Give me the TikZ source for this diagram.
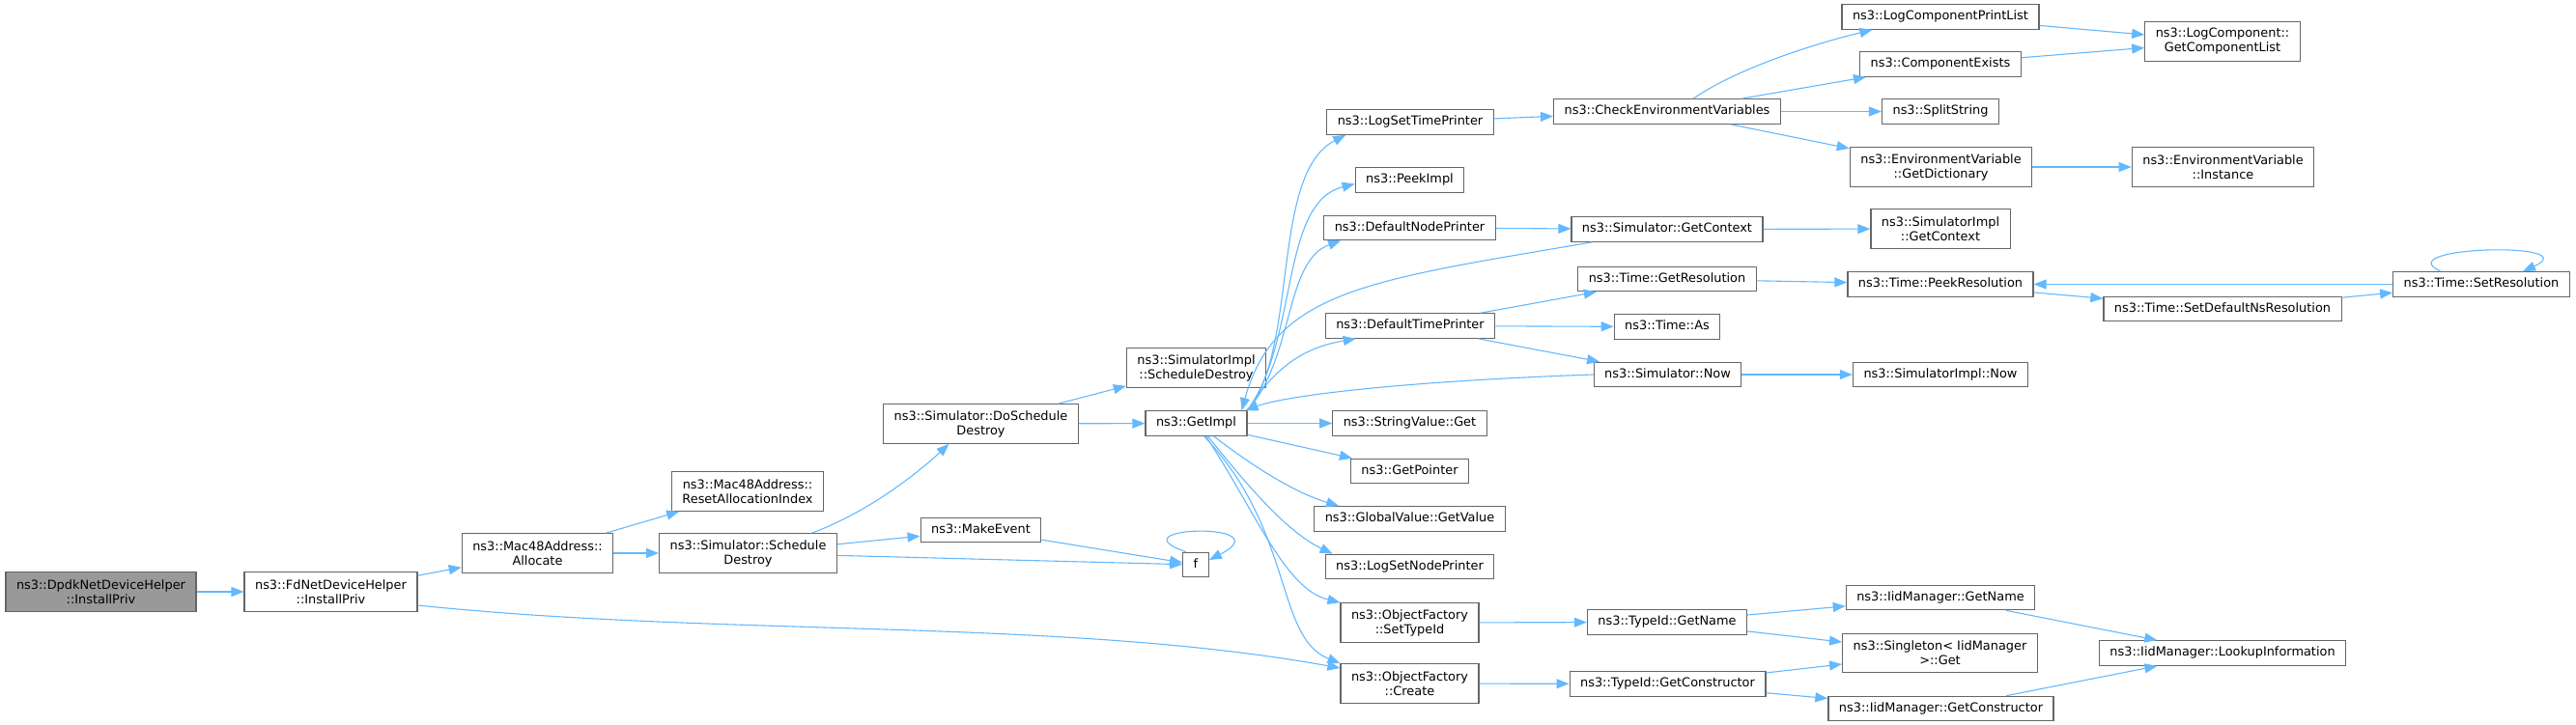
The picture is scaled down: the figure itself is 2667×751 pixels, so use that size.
\documentclass[tikz,border=0pt]{standalone}
\usepackage{fontspec}
\newfontfamily\dejavu{DejaVu Sans}
\usetikzlibrary{arrows.meta}
\definecolor{edgeblue}{HTML}{63B8FF}
\definecolor{boxgray}{HTML}{666666}
\definecolor{rootgray}{HTML}{999999}
\begin{document}
\begin{tikzpicture}[x=1pt, y=-1pt,
  fn/.style={draw=boxgray, line width=1.2pt, fill=white, align=center, inner xsep=11pt, inner ysep=2pt, font=\dejavu\fontsize{12.9}{15}\selectfont},
  one/.style={fn, minimum height=25.5pt, text height=9.6pt, text depth=3.1pt},
  two/.style={fn, minimum height=40.5pt},
  call/.style={draw=edgeblue, line width=1.1pt, -{Triangle[length=13pt,width=10pt]}}]
\useasboundingbox (0,0) rectangle (2667,751);
% left part
\node[two, fill=rootgray] (dpdk) at (104.5,613) {ns3::DpdkNetDeviceHelper\\::InstallPriv};
\node[two] (fdInstall) at (342.5,613) {ns3::FdNetDeviceHelper\\::InstallPriv};
\node[two] (macAlloc) at (556.5,573) {ns3::Mac48Address::\\Allocate};
\node[two] (macReset) at (774,509) {ns3::Mac48Address::\\ResetAllocationIndex};
\node[two] (simSched) at (774.5,573) {ns3::Simulator::Schedule\\Destroy};
\node[two] (simDoSched) at (1015.5,439) {ns3::Simulator::DoSchedule\\Destroy};
\node[two] (implSched) at (1238.5,381) {ns3::SimulatorImpl\\::ScheduleDestroy};
\node[one] (makeEvent) at (1015.5,549) {ns3::MakeEvent};
\node[one] (fFunc) at (1238,585) {f};
\node[one] (getImpl) at (1238.5,438.5) {ns3::GetImpl};
% callees of GetImpl
\node[one] (logTime) at (1460,126.5) {ns3::LogSetTimePrinter};
\node[one] (peekImpl) at (1459.5,186.5) {ns3::PeekImpl};
\node[one] (nodePrinter) at (1459.5,236) {ns3::DefaultNodePrinter};
\node[one] (timePrinter) at (1460,337.5) {ns3::DefaultTimePrinter};
\node[one] (strGet) at (1459.5,438.5) {ns3::StringValue::Get};
\node[one] (getPtr) at (1459.5,488) {ns3::GetPointer};
\node[one] (globVal) at (1459.5,537.5) {ns3::GlobalValue::GetValue};
\node[one] (logNode) at (1459.5,587) {ns3::LogSetNodePrinter};
\node[two] (setTid) at (1459.5,645) {ns3::ObjectFactory\\::SetTypeId};
\node[two] (ofCreate) at (1459.5,708) {ns3::ObjectFactory\\::Create};
% next column
\node[one] (checkEnv) at (1726,115.5) {ns3::CheckEnvironmentVariables};
\node[one] (simCtx) at (1726,237.5) {ns3::Simulator::GetContext};
\node[one] (getRes) at (1726,289) {ns3::Time::GetResolution};
\node[one] (timeAs) at (1726,338.5) {ns3::Time::As};
\node[one] (simNow) at (1726.5,388) {ns3::Simulator::Now};
\node[one] (tidName) at (1726,644.5) {ns3::TypeId::GetName};
\node[one] (tidCtor) at (1726.5,708.5) {ns3::TypeId::GetConstructor};
\node[one] (printList) at (2009,17.5) {ns3::LogComponentPrintList};
\node[one] (compExists) at (2009,66.5) {ns3::ComponentExists};
\node[one] (splitStr) at (2009,115.5) {ns3::SplitString};
\node[two] (envDict) at (2009.5,173) {ns3::EnvironmentVariable\\::GetDictionary};
\node[two] (implCtx) at (2009,237) {ns3::SimulatorImpl\\::GetContext};
\node[one] (peekRes) at (2009,294.5) {ns3::Time::PeekResolution};
\node[one] (implNow) at (2009,388) {ns3::SimulatorImpl::Now};
\node[one] (iidName) at (2009,619) {ns3::IidManager::GetName};
\node[two] (singleton) at (2008.5,676.5) {ns3::Singleton< IidManager\\>::Get};
\node[one] (iidCtor) at (2009.5,734) {ns3::IidManager::GetConstructor};
\node[two] (compList) at (2301,43) {ns3::LogComponent::\\GetComponentList};
\node[two] (envInst) at (2301.5,173) {ns3::EnvironmentVariable\\::Instance};
\node[one] (setDefNs) at (2301,320) {ns3::Time::SetDefaultNsResolution};
\node[one] (lookup) at (2301,676.5) {ns3::IidManager::LookupInformation};
\node[one] (setRes) at (2569,294.5) {ns3::Time::SetResolution};
% straight calls
\foreach \a/\b in {dpdk/fdInstall, fdInstall/macAlloc, macAlloc/macReset, macAlloc/simSched,
  simSched/makeEvent, simSched/fFunc, makeEvent/fFunc, simDoSched/implSched, simDoSched/getImpl,
  getImpl/strGet, getImpl/getPtr, logTime/checkEnv, nodePrinter/simCtx, timePrinter/getRes,
  timePrinter/timeAs, timePrinter/simNow, simCtx/implCtx, simNow/implNow, getRes/peekRes,
  peekRes/setDefNs, setDefNs/setRes, setRes/peekRes, checkEnv/compExists, checkEnv/splitStr,
  checkEnv/envDict, printList/compList, compExists/compList, envDict/envInst, setTid/tidName,
  ofCreate/tidCtor, tidName/iidName, tidName/singleton, tidCtor/singleton, tidCtor/iidCtor,
  iidName/lookup, iidCtor/lookup}
\draw[call] (\a) -- (\b);
% curved calls
\draw[call] ([yshift=-14pt]fdInstall.east) .. controls (750,660) and (1100,640) .. ([yshift=16pt]ofCreate.west);
\draw[call] ([xshift=66pt]simSched.north) .. controls (900,530) and (950,490) .. ([xshift=-33pt]simDoSched.south);
\draw[call] ([xshift=-10pt]fFunc.north) .. controls (1150,545) and (1330,540) .. ([yshift=5pt]fFunc.east);
\draw[call] (getImpl.north east) .. controls (1345,360) and (1315,180) .. ([xshift=20pt]logTime.south west);
\draw[call] (getImpl.north east) .. controls (1345,350) and (1325,210) .. ([yshift=-4pt]peekImpl.west);
\draw[call] (getImpl.north east) .. controls (1340,370) and (1330,270) .. ([xshift=18pt]nodePrinter.south west);
\draw[call] (getImpl.north east) .. controls (1320,380) and (1350,360) .. ([xshift=32pt]timePrinter.south west);
\draw[call] ([xshift=22pt]simCtx.south west) .. controls (1420,290) and (1320,300) .. ([xshift=-6pt]getImpl.north east);
\draw[call] (simNow.west) .. controls (1450,395) and (1330,410) .. ([xshift=-2pt]getImpl.north east);
\draw[call] ([xshift=18pt]getImpl.south) .. controls (1300,485) and (1340,510) .. ([xshift=26pt]globVal.north west);
\draw[call] ([xshift=12pt]getImpl.south) .. controls (1285,495) and (1330,550) .. ([xshift=8pt]logNode.north west);
\draw[call] ([xshift=10pt]getImpl.south) .. controls (1300,530) and (1330,610) .. (setTid.north west);
\draw[call] ([xshift=8pt]getImpl.south) .. controls (1340,550) and (1320,660) .. (ofCreate.north west);
\draw[call] ([xshift=-42pt]setRes.north) .. controls (2470,255) and (2680,250) .. ([xshift=43pt]setRes.north);
\draw[call] ([xshift=27pt]checkEnv.north) .. controls (1800,70) and (1880,45) .. ([xshift=32pt]printList.south west);
\end{tikzpicture}
\end{document}
